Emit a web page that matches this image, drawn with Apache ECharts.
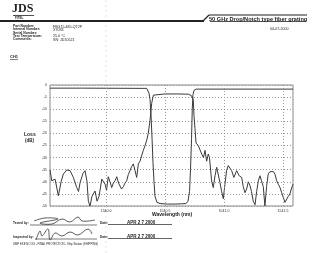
<!DOCTYPE html>
<html><head><meta charset="utf-8">
<script src="https://cdn.jsdelivr.net/npm/echarts@6/dist/echarts.min.js"></script>
<style>html,body{margin:0;padding:0;background:#fff}#c{width:320px;height:253px}</style>
</head><body><div id="c"></div>
<script>
// ---- data (wavelength in nm, loss in dB) ----
const xTicks = [1540.0, 1540.5, 1541.0, 1541.5];
const xMin = 1539.525, xMax = 1541.585;
const yMin = -50, yMax = 0, yStep = 5;

// drop (reflection) channel
const dropWl = [1539.525,1539.54,1539.568,1539.596,1539.619,1539.638,1539.667,1539.695,1539.723,1539.752,1539.767,1539.78,1539.805,1539.822,1539.839,1539.85,1539.864,1539.881,1539.907,1539.924,1539.941,1539.964,1539.977,1539.992,1540.004,1540.019,1540.034,1540.048,1540.062,1540.076,1540.091,1540.106,1540.119,1540.131,1540.147,1540.161,1540.175,1540.189,1540.203,1540.216,1540.231,1540.246,1540.26,1540.274,1540.288,1540.303,1540.316,1540.331,1540.345,1540.358,1540.373,1540.387,1540.401,1540.415,1540.5,1540.6,1540.7,1540.712,1540.726,1540.74,1540.746,1540.754,1540.763,1540.782,1540.797,1540.811,1540.826,1540.839,1540.853,1540.867,1540.877,1540.895,1540.909,1540.924,1540.938,1540.952,1540.966,1540.98,1540.994,1541.008,1541.022,1541.036,1541.051,1541.065,1541.084,1541.107,1541.121,1541.129,1541.15,1541.163,1541.178,1541.192,1541.206,1541.22,1541.233,1541.248,1541.263,1541.277,1541.291,1541.305,1541.319,1541.333,1541.347,1541.361,1541.375,1541.39,1541.404,1541.418,1541.432,1541.447,1541.46,1541.475,1541.489,1541.503,1541.517,1541.531,1541.545,1541.559,1541.574,1541.585];
const dropDb = [-35.1,-39.6,-38.9,-45.8,-40,-36.8,-35.1,-35.4,-38.2,-42.4,-44,-40.3,-36.5,-35.4,-40,-48,-50,-46,-43.8,-48,-46,-38.9,-38.2,-41,-43.5,-37.9,-40,-42.4,-40.5,-39.6,-37.9,-40.5,-41.3,-43,-42,-40.5,-39.6,-37,-35.4,-33.8,-32.6,-35.4,-38.2,-32.6,-31.5,-31.3,-27,-25,-22.8,-20,-14.6,-7.6,-4.2,-3.8,-3.7,-3.7,-3.8,-3.9,-4.5,-6.3,-13,-18,-24,-25,-24.3,-28.5,-30,-27,-31.5,-28.5,-30,-39.6,-42.4,-37.5,-34,-33.3,-40.3,-44,-47,-41,-35.4,-33.3,-34,-35.4,-38.2,-35.4,-35.8,-37.5,-38.2,-42,-44.5,-43,-40,-41.5,-44,-48,-49.5,-44,-39.6,-37.5,-37,-42,-50,-42,-36.8,-35.8,-35.4,-35.8,-36.8,-39.6,-41,-42.4,-44.5,-46.5,-48.5,-49.3,-46,-45,-42.4,-41];

// through (notch / transmission) channel
const thruWl = [1539.525,1539.8,1540.1,1540.345,1540.356,1540.364,1540.373,1540.381,1540.39,1540.398,1540.407,1540.415,1540.432,1540.458,1540.52,1540.585,1540.64,1540.678,1540.695,1540.708,1540.716,1540.725,1540.731,1540.737,1540.746,1540.763,1541.0,1541.3,1541.585];
const thruDb = [-1.3,-1.3,-1.35,-1.4,-1.8,-3.3,-6,-12,-22,-32,-40,-46,-48.5,-49,-49.2,-49.2,-49.1,-49,-48,-44,-35,-22,-10,-4,-2.2,-1.7,-1.7,-1.7,-1.7];

const zip = (a, b) => a.map((v, i) => [v, b[i]]);

const F = '"Liberation Sans", Arial, sans-serif';
const ink = '#222';
function txt(x, y, s, size, weight, extra) {
  return Object.assign({type:'text', x, y, silent:true, style:{text:s, fill:ink, font:(weight||'normal')+' '+size+'px '+F}}, extra||{});
}
function ln(x1,y1,x2,y2,w,c,dash){return {type:'line', silent:true, shape:{x1,y1,x2,y2}, style:{stroke:c||ink, lineWidth:w||1, lineDash:dash||null}};}
function pl(pts,w){return {type:'polyline', silent:true, shape:{points:pts, smooth:0.4}, style:{stroke:'#333', lineWidth:w||0.8, fill:null}};}

const chart = echarts.init(document.getElementById('c'), null, {renderer:'canvas'});
chart.setOption({
  backgroundColor:'#fff',
  animation:false,
  grid:{left:50, right:27, top:85, bottom:47, show:true, borderColor:'#888', borderWidth:1, containLabel:false},
  xAxis:{type:'value', min:xMin, max:xMax,
    axisLine:{show:false}, axisTick:{show:false}, splitLine:{show:false},
    axisLabel:{customValues:xTicks, formatter:v=>v.toFixed(1), fontSize:3.5, color:'#333', margin:3, fontFamily:F}},
  yAxis:{type:'value', min:yMin, max:yMax, interval:yStep,
    axisLine:{show:false}, axisTick:{show:false},
    splitLine:{show:true, lineStyle:{color:'#999', type:[1,2], width:1}},
    axisLabel:{fontSize:3.5, color:'#333', margin:3, fontFamily:F}},
  series:[
    {type:'line', data:zip(thruWl, thruDb), showSymbol:false, lineStyle:{color:'#3a3a3a', width:1}, z:3,
     markLine:{silent:true, symbol:'none', label:{show:false}, lineStyle:{color:'#999', type:[1,2], width:1},
       data:xTicks.map(v=>({xAxis:v}))}},
    {type:'line', data:zip(dropWl, dropDb), showSymbol:false, lineStyle:{color:'#3a3a3a', width:1}, z:3}
  ],
  graphic:[
    // faint scan fold
    ln(106,0,106,85,0.6,'#ccc',[2,3]),
    ln(106,206,106,253,0.6,'#ccc',[2,3]),
    // logo
    txt(12,3,'JDS',12,'bold',{style:{text:'JDS',fill:ink,font:'bold 12px "Liberation Serif", serif'}}),
    ln(13,15.5,34,15.5,0.8),
    txt(15,16.3,'FITEL',3,'bold'),
    // header rules
    ln(0,21,204,21,2),
    ln(203,21,209,15,1.2),
    ln(209,15,307,15,1.2),
    ln(210,21.5,306,21.5,0.8),
    txt(209,16,'50 GHz Drop/Notch type fiber grating',5.6,'bold'),
    txt(270,27.3,'04-07-2000',3.6,'normal'),
    // fields
    txt(13,24.8,'Part Number:',3.4,'bold'), txt(53,24.8,'FBG15-465-QT2P',3.6,'normal'),
    txt(13,28,'Internal Number:',3.4,'bold'), txt(53,28,'X7033',3.6,'normal'),
    txt(13,31.2,'Serial Number:',3.4,'bold'),
    txt(13,34.4,'Test Temperature:',3.4,'bold'), txt(53,34.4,'25.0 °C',3.6,'normal'),
    txt(13,37.6,'Comments:',3.4,'bold'), txt(53,37.6,'SN: JD10521',3.6,'normal'),
    txt(10,54.5,'CH1',4,'bold'),
    ln(10,59.5,18,59.5,0.6),
    // axis titles
    txt(24,132,'Loss',5,'bold'),
    txt(25,138.5,'(dB)',4.5,'bold'),
    txt(152,212.5,'Wavelength (nm)',5,'bold'),
    // sign-off block
    txt(13,221.5,'Tested by:',3.2,'bold'),
    ln(30,225,97,225,0.6),
    pl([[34,221],[45,218],[58,219],[40,223],[52,224],[62,219],[70,222],[78,217],[82,221],[95,220]],0.8),
    txt(100,221.5,'Date:',3.2,'bold'),
    txt(127,220,'APR 2 7 2000',4.5,'bold'),
    ln(108,224.5,172,224.5,0.7),
    txt(13,235.5,'Inspected by:',3.2,'bold'),
    ln(35,239,97,239,0.6),
    pl([[36,240],[40,231],[42,236],[48,229],[50,240],[55,233],[62,236],[70,232],[78,235],[88,229],[92,234]],0.8),
    txt(100,235.5,'Date:',3.2,'bold'),
    txt(127,234,'APR 2 7 2000',4.5,'bold'),
    ln(108,238.5,172,238.5,0.7),
    txt(13,242.5,'UMP EXE NO XX - FINAL PROTECTION - Ship Station (SHIPPING)',2.8,'normal')
  ]
});
</script></body></html>
